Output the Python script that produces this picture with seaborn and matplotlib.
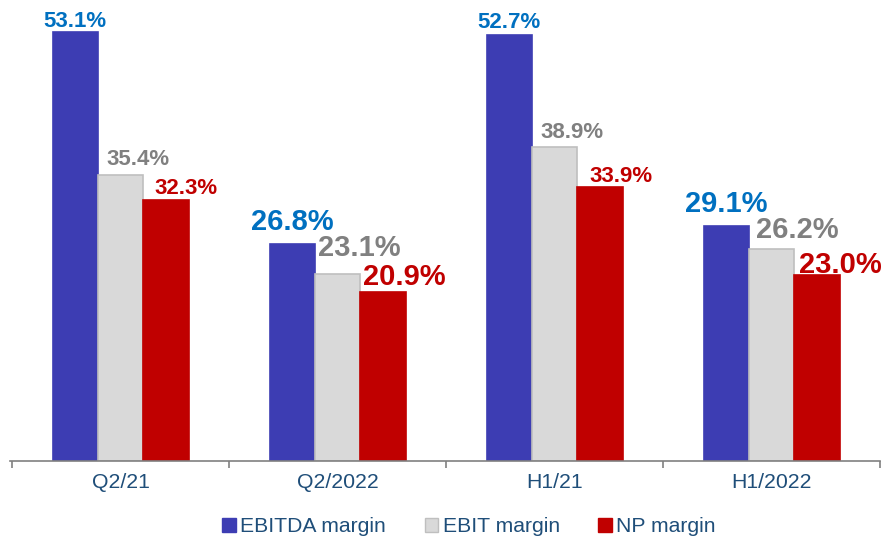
import matplotlib
matplotlib.use("Agg")
import matplotlib.pyplot as plt
import seaborn as sns
import pandas as pd
from matplotlib.patches import Patch

categories = ["Q2/21", "Q2/2022", "H1/21", "H1/2022"]
series = ["EBITDA margin", "EBIT margin", "NP margin"]
ebitda = [53.1, 26.8, 52.7, 29.1]
ebit = [35.4, 23.1, 38.9, 26.2]
np_margin = [32.3, 20.9, 33.9, 23.0]

fill_colors = ["#3D3DB3", "#D9D9D9", "#C00000"]
edge_colors = ["#3D3DB3", "#BFBFBF", "#C00000"]
label_colors = ["#0070C0", "#808080", "#C00000"]
text_navy = "#1F4E79"

rows = []
for s, vals in zip(series, [ebitda, ebit, np_margin]):
    for c, v in zip(categories, vals):
        rows.append({"category": c, "series": s, "value": v})
df = pd.DataFrame(rows)

sns.set_theme(style="white")
plt.rcParams["font.family"] = ["Liberation Sans", "DejaVu Sans"]

fig = plt.figure(figsize=(8.81, 5.41), dpi=100)
ax = fig.add_axes([10 / 881, 80 / 541, 870 / 881, 461 / 541])

sns.barplot(data=df, x="category", y="value", hue="series", order=categories,
            hue_order=series, palette=fill_colors, width=0.627, ax=ax,
            legend=False, saturation=1)

ax.set_xlim(-0.51, 3.49)
ax.set_ylim(0, 57.05)

# label placement tweaks (pixels): horizontal shift and gap above bar
big = [False, True, False, True]
label_dx = [[0, 0, 0, 0], [17, 22, 17, 26], [20, 21, 21, 24]]
label_dy = [[5, 14, 7, 14], [10, 18, 9, 11], [6, 7, 5, 2]]
px2pt = 72 / 100
for si, cont in enumerate(ax.containers):
    for ci, bar in enumerate(cont):
        bar.set_edgecolor(edge_colors[si])
        bar.set_linewidth(1.2)
        val = bar.get_height()
        fs = 21 if big[ci] else 16
        ax.annotate(f"{val:.1f}%", xy=(bar.get_x() + bar.get_width() / 2, val),
                    xytext=(label_dx[si][ci] * px2pt, label_dy[si][ci] * px2pt),
                    textcoords="offset points",
                    ha="center", va="baseline", fontsize=fs, fontweight="bold",
                    color=label_colors[si])

for side in ["top", "right", "left"]:
    ax.spines[side].set_visible(False)
ax.spines["bottom"].set_color("#808080")
ax.spines["bottom"].set_linewidth(1.2)
ax.set_yticks([])
ax.set_xlabel("")
ax.set_ylabel("")
ax.set_xticks(range(len(categories)))
ax.set_xticklabels(categories, fontsize=15.3, color=text_navy)
ax.tick_params(axis="x", which="major", length=0, pad=9)
ax.set_xticks([-0.5, 0.5, 1.5, 2.5, 3.5], minor=True)
ax.tick_params(axis="x", which="minor", length=5, width=1.2, color="#808080",
               direction="out", bottom=True)

handles = [Patch(facecolor=fill_colors[i], edgecolor=edge_colors[i]) for i in range(3)]
leg = fig.legend(handles, series, loc="center", bbox_to_anchor=(469 / 881, 1 - 527 / 541),
                 ncol=3, frameon=False, fontsize=15.2, handlelength=0.65,
                 handleheight=0.65, handletextpad=0.2, columnspacing=1.82)
for t in leg.get_texts():
    t.set_color(text_navy)

fig.savefig("out.png", dpi=100)
